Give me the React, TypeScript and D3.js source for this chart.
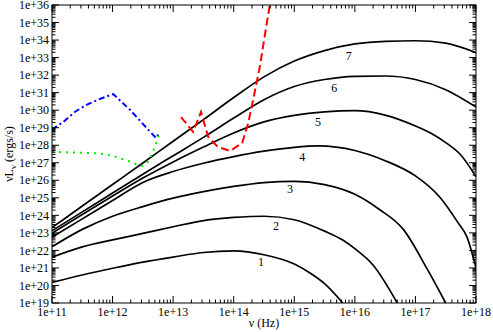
import React from 'react';
import * as d3 from 'd3';

// values are log10(nu) and log10(nu L_nu)
const sed1: [number, number][] = [
  [11, 20.17], [11.5, 20.6], [12, 20.98], [12.5, 21.33], [13, 21.62], [13.5, 21.88],
  [14, 21.97], [14.5, 21.75], [15, 21.22], [15.26, 20.71], [15.5, 20.1], [15.8, 19.0],
];
const sed2: [number, number][] = [
  [11, 21.61], [11.5, 22.2], [12, 22.6], [12.5, 22.97], [13, 23.35], [13.5, 23.7],
  [14, 23.88], [14.5, 23.95], [15, 23.75], [15.5, 23.1], [15.8, 22.59], [16, 22.1],
  [16.3, 21.17], [16.7, 19.0],
];
const sed3: [number, number][] = [
  [11, 22.21], [11.5, 23.2], [12, 23.95], [12.5, 24.5], [13, 24.98], [13.5, 25.35],
  [14, 25.65], [14.5, 25.87], [15, 25.94], [15.5, 25.75], [16, 25.2], [16.4, 24.35],
  [16.8, 23.2], [17.2, 20.9], [17.5, 19.0],
];
const sed4: [number, number][] = [
  [11, 22.75], [11.5, 23.8], [12, 24.85], [12.5, 25.88], [13, 26.5], [13.5, 26.97],
  [14, 27.35], [14.5, 27.66], [15, 27.88], [15.4, 27.96], [16, 27.7], [16.5, 27.12],
  [17, 26.25], [17.4, 25.05], [17.7, 23.6], [17.85, 22.77], [18, 21.0],
];
const sed5: [number, number][] = [
  [11, 22.98], [11.5, 24.05], [12, 25.1], [12.5, 26.13], [13, 27.05], [13.5, 27.9],
  [14, 28.7], [14.5, 29.33], [15, 29.7], [15.5, 29.9], [16, 29.97], [16.5, 29.72],
  [17, 29.1], [17.25, 28.7], [17.5, 28.15], [17.75, 27.44], [18, 26.2],
];
const sed6: [number, number][] = [
  [11, 23.12], [11.5, 24.2], [12, 25.27], [12.5, 26.35], [13, 27.4], [13.5, 28.45],
  [14, 29.55], [14.5, 30.6], [15, 31.35], [15.5, 31.75], [16, 31.93], [16.5, 31.95],
  [17, 31.75], [17.5, 31.17], [18, 30.18],
];
const sed7: [number, number][] = [
  [11, 23.3], [11.5, 24.53], [12, 25.76], [12.5, 26.99], [13, 28.23], [13.5, 29.46],
  [14, 30.72], [14.5, 31.9], [15, 32.8], [15.5, 33.4], [16, 33.78], [16.5, 33.93],
  [17, 33.96], [17.5, 33.82], [18, 33.28],
];
const sedCurves = [sed1, sed2, sed3, sed4, sed5, sed6, sed7];
const curveNames = ['1', '2', '3', '4', '5', '6', '7'];
const labelPos: [number, number][] = [
  [14.45, 21.34], [14.7, 23.39], [14.93, 25.49], [15.13, 27.35], [15.39, 29.33], [15.66, 31.27], [15.9, 33.09],
];

const blueObs: [number, number][] = [
  [11.0, 28.9], [11.19, 29.34], [11.38, 29.91], [11.57, 30.3], [11.79, 30.64], [12.01, 30.92],
  [12.29, 30.01], [12.62, 28.77], [12.72, 28.41], [12.78, 28.76],
];
const greenObs: [number, number][] = [
  [11.0, 27.62], [11.5, 27.57], [11.8, 27.53], [12.0, 27.4], [12.25, 27.12], [12.4, 26.9],
  [12.5, 26.82], [12.6, 27.1], [12.7, 27.92], [12.78, 28.72],
];
const redObs: [number, number][] = [
  [13.13, 29.61], [13.33, 28.76], [13.46, 29.9], [13.58, 28.47], [13.74, 27.9], [13.94, 27.67],
  [14.14, 28.13], [14.24, 29.27], [14.32, 30.58], [14.43, 32.46], [14.52, 34.4], [14.6, 36.1],
];

const xTickExps = [11, 12, 13, 14, 15, 16, 17, 18];
const xTickLabels = ['1e+11', '1e+12', '1e+13', '1e+14', '1e+15', '1e+16', '1e+17', '1e+18'];
const yTickExps = d3.range(19, 37);
const yTickLabels = yTickExps.map((e) => `1e+${e}`);

const W = 493;
const H = 332;
const M = { left: 52, right: 476, top: 5, bottom: 303 };
const FONT = "'Liberation Serif', 'DejaVu Serif', serif";

export default function App() {
  const x = d3.scaleLog().domain([1e11, 1e18]).range([M.left, M.right]);
  const y = d3.scaleLog().domain([1e19, 1e36]).range([M.bottom, M.top]);

  const smooth = d3.line<[number, number]>()
    .x((d) => x(10 ** d[0]))
    .y((d) => y(10 ** d[1]))
    .curve(d3.curveMonotoneX);
  const straight = d3.line<[number, number]>()
    .x((d) => x(10 ** d[0]))
    .y((d) => y(10 ** d[1]));

  const minors = (exps: number[]) => {
    const out: number[] = [];
    exps.slice(0, -1).forEach((e) => {
      for (let k = 2; k <= 9; k++) out.push(k * 10 ** e);
    });
    return out;
  };
  const xMinor = minors(xTickExps);
  const yMinor = minors(yTickExps);
  const major = 7;
  const minor = 3.5;

  return (
    <svg width={W} height={H}
      style={{ position: 'absolute', left: 0, top: 0, background: '#fff', fontFamily: FONT }}>
      <defs>
        <clipPath id="plotClip">
          <rect x={M.left} y={M.top} width={M.right - M.left} height={M.bottom - M.top} />
        </clipPath>
      </defs>

      <g clipPath="url(#plotClip)" fill="none">
        {sedCurves.map((c, i) => (
          <path key={i} d={smooth(c) ?? ''} stroke="#000" strokeWidth={1.7} />
        ))}
        <path d={straight(blueObs) ?? ''} stroke="#0000ff" strokeWidth={2} strokeDasharray="6,3,2,3" />
        <path d={straight(greenObs) ?? ''} stroke="#00ee00" strokeWidth={2} strokeDasharray="2,5" />
        <path d={straight(redObs) ?? ''} stroke="#ff0000" strokeWidth={2} strokeDasharray="8,4" />
      </g>

      {curveNames.map((n, i) => (
        <text key={n} x={x(10 ** labelPos[i][0])} y={y(10 ** labelPos[i][1])} dy="0.35em"
          textAnchor="middle" fontSize={12} fill="#000" style={{ fontFamily: FONT }}>{n}</text>
      ))}

      <g stroke="#000" strokeWidth={1}>
        {xTickExps.map((e) => (
          <g key={'xt' + e}>
            <line x1={x(10 ** e)} x2={x(10 ** e)} y1={M.bottom} y2={M.bottom - major} />
            <line x1={x(10 ** e)} x2={x(10 ** e)} y1={M.top} y2={M.top + major} />
          </g>
        ))}
        {xMinor.map((v, i) => (
          <g key={'xm' + i}>
            <line x1={x(v)} x2={x(v)} y1={M.bottom} y2={M.bottom - minor} />
            <line x1={x(v)} x2={x(v)} y1={M.top} y2={M.top + minor} />
          </g>
        ))}
        {yTickExps.map((e) => (
          <g key={'yt' + e}>
            <line x1={M.left} x2={M.left + major} y1={y(10 ** e)} y2={y(10 ** e)} />
            <line x1={M.right} x2={M.right - major} y1={y(10 ** e)} y2={y(10 ** e)} />
          </g>
        ))}
        {yMinor.map((v, i) => (
          <g key={'ym' + i}>
            <line x1={M.left} x2={M.left + minor} y1={y(v)} y2={y(v)} />
            <line x1={M.right} x2={M.right - minor} y1={y(v)} y2={y(v)} />
          </g>
        ))}
        <rect x={M.left} y={M.top} width={M.right - M.left} height={M.bottom - M.top} fill="none" />
      </g>

      {xTickExps.map((e, i) => (
        <text key={'xl' + e} x={x(10 ** e)} y={M.bottom + 13} textAnchor="middle" fontSize={12}
          style={{ fontFamily: FONT }}>
          {xTickLabels[i]}
        </text>
      ))}
      {yTickExps.map((e, i) => (
        <text key={'yl' + e} x={M.left - 3} y={y(10 ** e)} dy="0.35em" textAnchor="end" fontSize={12}
          style={{ fontFamily: FONT }}>
          {yTickLabels[i]}
        </text>
      ))}

      <text x={(M.left + M.right) / 2} y={327} textAnchor="middle" fontSize={12}
        style={{ fontFamily: FONT }}>ν (Hz)</text>
      <text transform={`translate(13,${(M.top + M.bottom) / 2}) rotate(-90)`} textAnchor="middle" fontSize={12}
        style={{ fontFamily: FONT }}>
        νL<tspan fontSize={9} dy={3}>ν</tspan><tspan dy={-3}> (ergs/s)</tspan>
      </text>
    </svg>
  );
}
